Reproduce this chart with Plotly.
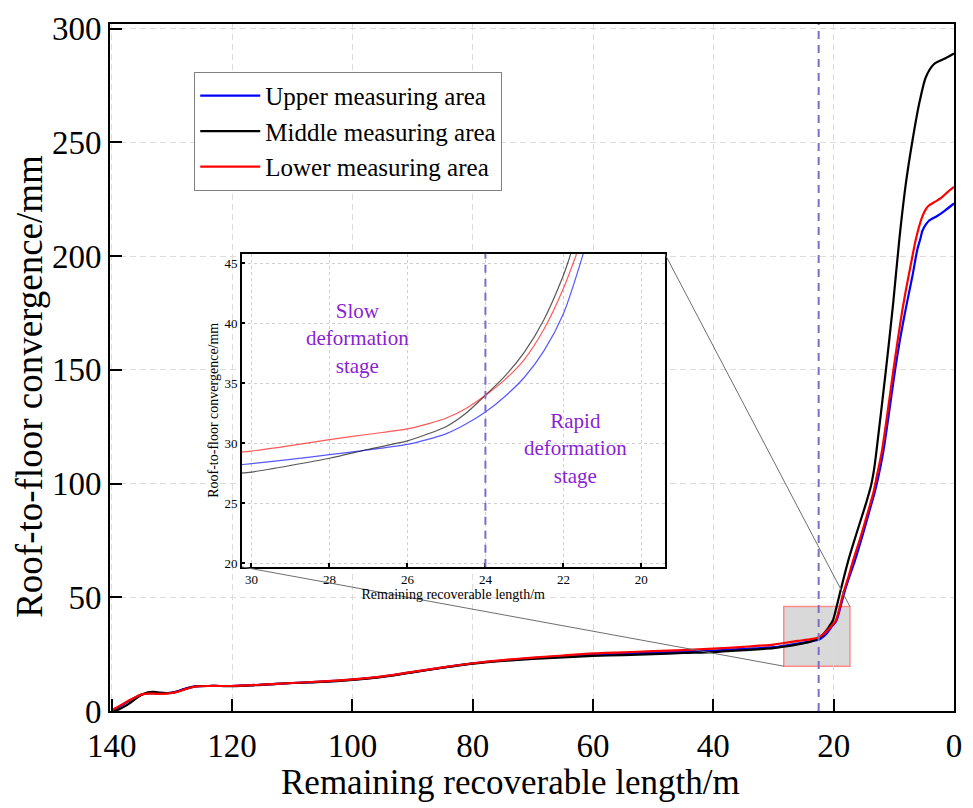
import plotly.graph_objects as go

# ---------------- main curves: remaining length (m) vs convergence (mm) ----------------
upper_x = [140, 139, 138, 137, 136, 135, 134, 133, 132, 131, 130, 129, 128, 127, 126, 124, 122, 120,
           115, 110, 105, 100, 95, 90, 85, 80, 75, 70, 65, 60, 50, 40, 35, 30, 28, 26, 24, 23, 22.5,
           22, 21.2, 20.3, 19.55, 18.9, 18.3, 17.4, 16.5, 15.16, 14.0, 13.2, 12.69, 11.75, 9.77,
           9.0, 8.3, 7.74, 6.92, 6.1, 5.6, 5.27, 4.7, 4.17, 2.8, 1.5, 0]
upper_y = [0.2, 1.5, 3.0, 4.6, 6.0, 7.2, 7.7, 7.8, 7.7, 7.8, 8.1, 8.8, 9.7, 10.4, 10.9, 11.0, 11.0, 11.0,
           11.6, 12.3, 12.9, 13.8, 15.1, 17.1, 19.1, 20.9, 22.2, 23.2, 24.1, 24.8, 25.6, 26.6, 27.3, 28.1,
           28.8, 29.6, 30.5, 31.0, 31.4, 32.2, 34.0, 37.2, 39.7, 45.5, 51.4, 59.0, 65.9, 77.6, 88.5, 96.0,
           101.5, 114.0, 150.3, 163.0, 173.0, 180.5, 191.1, 202.8, 207.5, 211.0, 213.8, 215.5, 217.6,
           220.0, 223.1]

middle_x = [140, 139, 138, 137, 136, 135, 134, 133, 132, 131, 130, 129, 128, 127, 126, 124, 122, 120,
            115, 110, 105, 100, 95, 90, 85, 80, 75, 70, 65, 60, 55, 50, 45, 40, 35, 30, 28, 26, 24, 23,
            22.5, 22, 21.2, 20.5, 20.1, 19.5, 19.0, 17.6, 16.26, 14.6, 13.8, 13.3, 12.97, 11.3, 10.1,
            9.1, 8.0, 6.9, 5.8, 4.7, 3.35, 1.5, 0]
middle_y = [0.0, 0.5, 1.8, 3.5, 5.5, 7.2, 8.2, 8.4, 8.1, 7.9, 8.0, 8.6, 9.5, 10.3, 10.8, 11.0, 11.0, 10.9,
            11.5, 12.3, 12.8, 13.7, 15.0, 17.0, 19.0, 20.8, 22.0, 22.9, 23.6, 24.2, 24.6, 25.0, 25.5, 25.9,
            26.7, 27.6, 28.4, 29.3, 30.4, 31.3, 31.9, 33.0, 35.4, 38.2, 40.0, 46.0, 51.4, 65.9, 77.6, 91.5,
            99.0, 106.0, 112.5, 150.3, 179.5, 207.0, 231.9, 250.8, 266.8, 278.5, 284.3, 286.8, 289.0]

lower_x = [140, 139, 138, 137, 136, 135, 134, 133, 132, 131, 130, 129, 128, 127, 126, 124, 122, 120,
           115, 110, 105, 100, 95, 90, 85, 80, 75, 70, 65, 60, 55, 50, 45, 40, 35, 30, 28, 26, 24, 23,
           22.5, 22, 21.2, 20.3, 19.65, 19.0, 18.45, 17.6, 16.8, 15.4, 14.2, 13.4, 12.97, 12.0, 10.05,
           9.3, 8.6, 8.0, 7.2, 6.37, 5.8, 5.27, 4.7, 4.17, 3.2, 2.25, 1.2, 0]
lower_y = [0.3, 1.8, 3.3, 4.8, 6.2, 7.3, 7.6, 7.6, 7.5, 7.6, 7.9, 8.5, 9.4, 10.2, 10.8, 11.0, 11.0, 11.0,
           11.6, 12.3, 13.0, 13.9, 15.2, 17.2, 19.2, 21.0, 22.4, 23.5, 24.4, 25.3, 25.8, 26.3, 26.8, 27.4,
           28.2, 29.2, 30.0, 30.8, 31.5, 32.0, 32.4, 33.2, 35.0, 37.6, 39.7, 45.5, 51.4, 58.5, 65.9, 77.6,
           88.5, 96.0, 101.5, 114.0, 150.3, 164.0, 176.0, 185.0, 196.0, 207.0, 213.0, 217.3, 220.5, 222.2,
           223.8, 225.3, 227.8, 230.4]

# ---------------- zoomed detail around the stage boundary ----------------
zoom_upper_x = [30.3, 30, 29, 28, 27, 26, 25.5, 25, 24.5, 24, 23.5, 23, 22.5, 22, 21.49]
zoom_upper_y = [28.2, 28.3, 28.65, 29.05, 29.45, 29.9, 30.3, 30.8, 31.6, 32.6, 33.9, 35.5, 37.7, 40.8, 45.8]
zoom_middle_x = [30.3, 30, 29, 28, 27, 26, 25.5, 25, 24.5, 24, 23.5, 23, 22.5, 22, 21.8]
zoom_middle_y = [27.5, 27.6, 28.15, 28.75, 29.5, 30.2, 30.75, 31.4, 32.5, 34.0, 35.6, 37.6, 40.3, 44.0, 45.9]
zoom_lower_x = [30.3, 30, 29, 28, 27, 26, 25.5, 25, 24.5, 24, 23.5, 23, 22.5, 22, 21.66]
zoom_lower_y = [29.25, 29.35, 29.8, 30.3, 30.75, 31.2, 31.6, 32.1, 32.9, 34.0, 35.3, 37.0, 39.5, 42.9, 45.8]

series_names = ["Upper measuring area", "Middle measuring area", "Lower measuring area"]
series_colors = ["#0000ff", "#000000", "#ff0000"]

x_ticks = [140, 120, 100, 80, 60, 40, 20, 0]
y_ticks = [0, 50, 100, 150, 200, 250, 300]
zoom_x_ticks = [30, 28, 26, 24, 22, 20]
zoom_y_ticks = [20, 25, 30, 35, 40, 45]

x_title = "Remaining recoverable length/m"
y_title = "Roof-to-floor convergence/mm"

# layout settings
X_RANGE = [140.3, 0]
Y_RANGE = [0, 302]
ZOOM_X_RANGE = [30.25, 19.4]
ZOOM_Y_RANGE = [19.7, 45.8]
ZOOM_DOMAIN_X = [0.1561, 0.6573]
ZOOM_DOMAIN_Y = [0.2098, 0.6657]
WINDOW_X = [28.3, 17.3]
WINDOW_Y = [19.7, 45.9]
BOUNDARY_MAIN = 22.5
BOUNDARY_ZOOM = 24
FONT = "Liberation Serif"
PURPLE_LINE = "#7f6cc6"
PURPLE_TEXT = "#8a1fd6"

fig = go.Figure()

main_sets = [(upper_x, upper_y), (middle_x, middle_y), (lower_x, lower_y)]
for (xs, ys), name, col in zip(main_sets, series_names, series_colors):
    fig.add_trace(go.Scatter(x=xs, y=ys, mode="lines", name=name,
                             line=dict(color=col, width=2.2, shape="spline", smoothing=0.7),
                             xaxis="x", yaxis="y"))

zoom_sets = [(zoom_upper_x, zoom_upper_y), (zoom_middle_x, zoom_middle_y), (zoom_lower_x, zoom_lower_y)]
for (xs, ys), name, col in zip(zoom_sets, series_names, series_colors):
    fig.add_trace(go.Scatter(x=xs, y=ys, mode="lines", name=name, showlegend=False,
                             opacity=0.65,
                             line=dict(color=col, width=1.2, shape="spline", smoothing=0.8),
                             xaxis="x2", yaxis="y2"))


def to_paper_x(v):
    return (v - X_RANGE[0]) / (X_RANGE[1] - X_RANGE[0])


def to_paper_y(v):
    return (v - Y_RANGE[0]) / (Y_RANGE[1] - Y_RANGE[0])


shapes = [
    # highlighted window on the main curve
    dict(type="rect", xref="x", yref="y", x0=WINDOW_X[0], x1=WINDOW_X[1], y0=WINDOW_Y[0], y1=WINDOW_Y[1],
         fillcolor="#d9d9d9", line=dict(color="#ff8a8a", width=1.5), layer="below"),
    # connectors from the window to the detail panel
    dict(type="line", xref="paper", yref="paper",
         x0=ZOOM_DOMAIN_X[1], y0=ZOOM_DOMAIN_Y[1],
         x1=to_paper_x(WINDOW_X[1]), y1=to_paper_y(WINDOW_Y[1]),
         line=dict(color="#6e6e6e", width=1)),
    dict(type="line", xref="paper", yref="paper",
         x0=ZOOM_DOMAIN_X[0], y0=ZOOM_DOMAIN_Y[0],
         x1=to_paper_x(WINDOW_X[0]), y1=to_paper_y(WINDOW_Y[0]),
         line=dict(color="#6e6e6e", width=1)),
    # stage boundary
    dict(type="line", xref="x", yref="y domain", x0=BOUNDARY_MAIN, x1=BOUNDARY_MAIN, y0=0, y1=1,
         line=dict(color=PURPLE_LINE, width=2, dash="8px,6px")),
    dict(type="line", xref="x2", yref="y2 domain", x0=BOUNDARY_ZOOM, x1=BOUNDARY_ZOOM, y0=0, y1=1,
         line=dict(color=PURPLE_LINE, width=2, dash="8px,6px")),
]

annotations = [
    dict(xref="x2", yref="y2", x=27.28, y=38.7, text="Slow<br>deformation<br>stage", showarrow=False,
         font=dict(family=FONT, size=21, color=PURPLE_TEXT), align="center"),
    dict(xref="x2", yref="y2", x=21.7, y=29.6, text="Rapid<br>deformation<br>stage", showarrow=False,
         font=dict(family=FONT, size=21, color=PURPLE_TEXT), align="center"),
    # main axis titles
    dict(xref="paper", yref="paper", x=0.475, y=-0.1042, xanchor="center", yanchor="middle",
         text=x_title, showarrow=False, font=dict(family=FONT, size=35, color="black")),
    dict(xref="paper", yref="paper", x=-0.0962, y=0.473, xanchor="center", yanchor="middle",
         text=y_title, textangle=-90, showarrow=False, font=dict(family=FONT, size=37, color="black")),
]

axis_common = dict(showline=True, mirror=True, linecolor="black", ticks="inside", tickcolor="black",
                   showgrid=True, zeroline=False)

fig.update_layout(
    width=973, height=808,
    margin=dict(l=110, r=11, t=20, b=97),
    paper_bgcolor="white", plot_bgcolor="white",
    font=dict(family=FONT, color="black"),
    showlegend=True,
    legend=dict(x=0.0998, y=0.8437, xanchor="left", yanchor="middle",
                bgcolor="white", bordercolor="#808080", borderwidth=1,
                font=dict(family=FONT, size=25, color="black"),
                itemwidth=60, tracegroupgap=0),
    xaxis=dict(**axis_common, range=X_RANGE, tickvals=x_ticks, linewidth=2, tickwidth=2, ticklen=12,
               gridcolor="#dcdcdc", griddash="6px,4px", gridwidth=1,
               tickfont=dict(family=FONT, size=33), ticklabelstandoff=4),
    yaxis=dict(**axis_common, range=Y_RANGE, tickvals=y_ticks, linewidth=2, tickwidth=2, ticklen=12,
               gridcolor="#dcdcdc", griddash="6px,4px", gridwidth=1,
               tickfont=dict(family=FONT, size=33)),
    xaxis2=dict(**axis_common, domain=ZOOM_DOMAIN_X, anchor="y2", range=ZOOM_X_RANGE, tickvals=zoom_x_ticks,
                linewidth=1.5, tickwidth=1.5, ticklen=4,
                gridcolor="#d0d0d0", griddash="dot", gridwidth=1,
                tickfont=dict(family=FONT, size=13),
                title=dict(text=x_title, font=dict(family=FONT, size=14), standoff=2)),
    yaxis2=dict(**axis_common, domain=ZOOM_DOMAIN_Y, anchor="x2", range=ZOOM_Y_RANGE, tickvals=zoom_y_ticks,
                linewidth=1.5, tickwidth=1.5, ticklen=4,
                gridcolor="#d0d0d0", griddash="dot", gridwidth=1,
                tickfont=dict(family=FONT, size=13),
                title=dict(text=y_title, font=dict(family=FONT, size=14), standoff=2)),
    shapes=shapes,
    annotations=annotations,
)

fig.write_html("out.html")
